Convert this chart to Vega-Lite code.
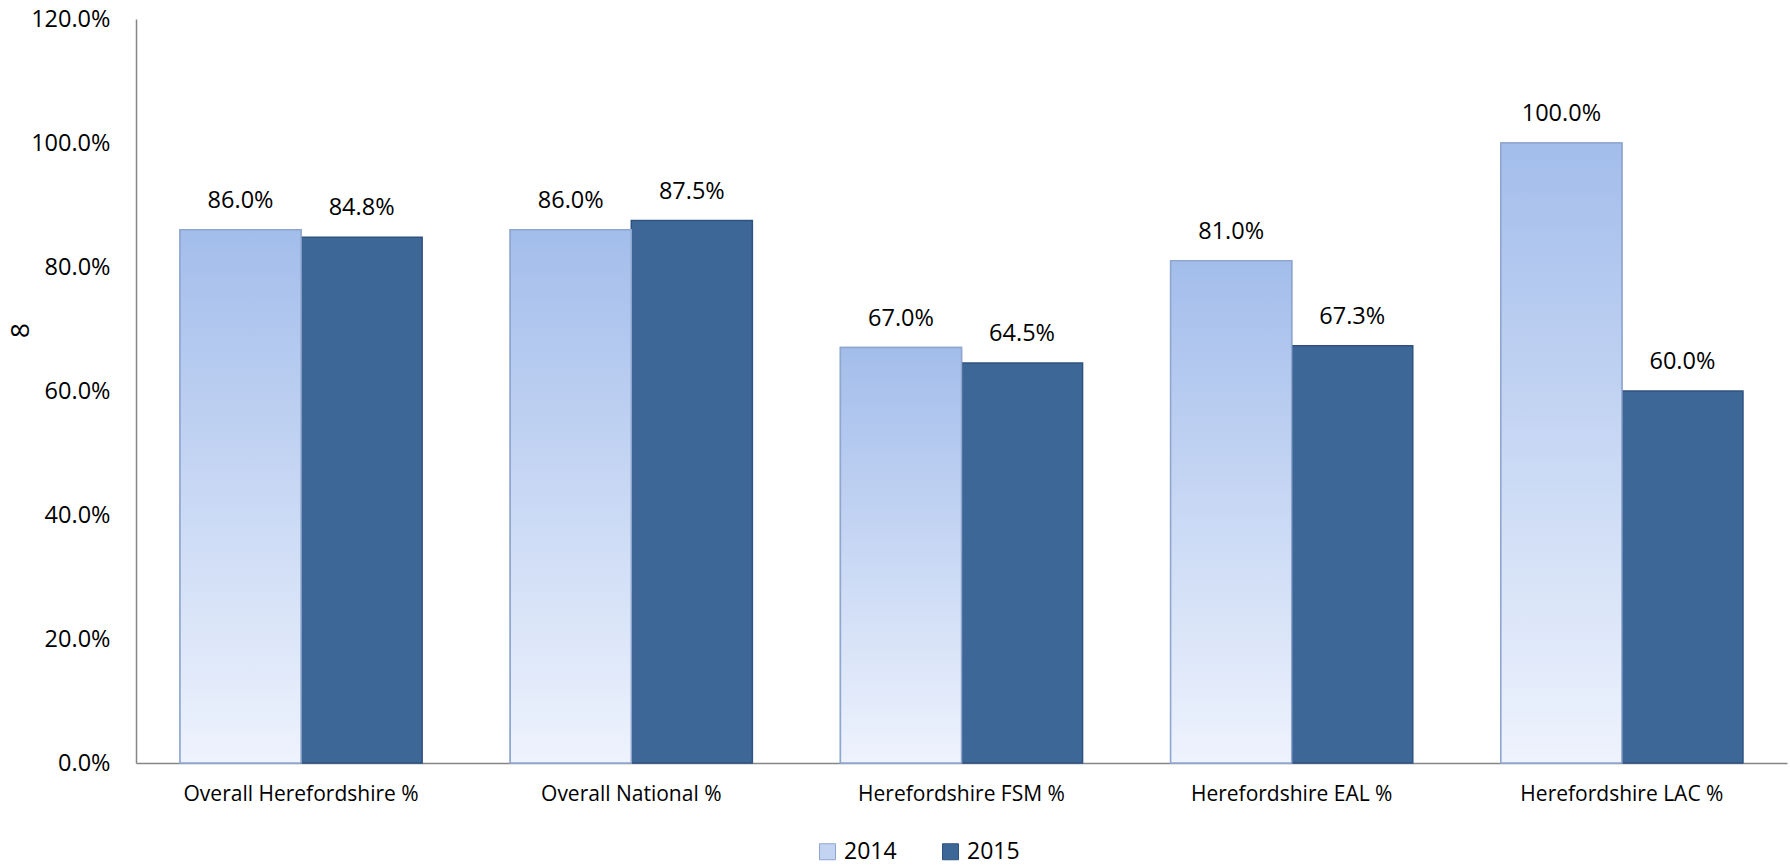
{
  "$schema": "https://vega.github.io/schema/vega-lite/v6.json",
  "width": 1651,
  "height": 744,
  "autosize": {"type": "none"},
  "padding": {"left": 136, "top": 19, "right": 3, "bottom": 103},
  "background": "white",
  "config": {
    "font": "Open Sans",
    "view": {"stroke": null},
    "axis": {"labelColor": "#000000", "titleColor": "#000000"},
    "legend": {"labelColor": "#000000"}
  },
  "data": {
    "values": [
      {"category": "Overall Herefordshire %", "year": "2014", "value": 0.86},
      {"category": "Overall Herefordshire %", "year": "2015", "value": 0.848},
      {"category": "Overall National %", "year": "2014", "value": 0.86},
      {"category": "Overall National %", "year": "2015", "value": 0.875},
      {"category": "Herefordshire FSM %", "year": "2014", "value": 0.67},
      {"category": "Herefordshire FSM %", "year": "2015", "value": 0.645},
      {"category": "Herefordshire EAL %", "year": "2014", "value": 0.81},
      {"category": "Herefordshire EAL %", "year": "2015", "value": 0.673},
      {"category": "Herefordshire LAC %", "year": "2014", "value": 1.0},
      {"category": "Herefordshire LAC %", "year": "2015", "value": 0.6}
    ]
  },
  "encoding": {
    "x": {
      "field": "category",
      "type": "nominal",
      "sort": null,
      "scale": {"paddingInner": 0.2667, "paddingOuter": 0.1333},
      "axis": {
        "title": null,
        "labelAngle": 0,
        "labelFontSize": 21,
        "labelLimit": 0,
        "labelPadding": 20,
        "ticks": false,
        "domainColor": "#868686",
        "domainWidth": 1.5
      }
    },
    "xOffset": {
      "field": "year",
      "type": "nominal",
      "scale": {"domain": ["2014", "2015"], "paddingInner": 0, "paddingOuter": 0}
    },
    "y": {
      "field": "value",
      "type": "quantitative",
      "scale": {"domain": [0, 1.2], "nice": false},
      "axis": {
        "values": [0, 0.2, 0.4, 0.6, 0.8, 1.0, 1.2],
        "format": ".1%",
        "labelFontSize": 23.5,
        "labelPadding": 26,
        "ticks": false,
        "grid": false,
        "domainColor": "#868686",
        "domainWidth": 1.5,
        "title": "8",
        "titleFontSize": 26,
        "titleFontWeight": "normal",
        "titleAngle": -90,
        "titleAlign": "center",
        "titleBaseline": "middle",
        "titleX": -116,
        "titleY": 311
      }
    }
  },
  "layer": [
    {
      "mark": {"type": "bar", "strokeWidth": 1.5},
      "encoding": {
        "color": {
          "field": "year",
          "type": "nominal",
          "scale": {"domain": ["2014", "2015"], "range": ["#c3d4f3", "#3d6796"]},
          "legend": {
            "orient": "none",
            "legendX": 680,
            "legendY": 821,
            "direction": "horizontal",
            "title": null,
            "symbolType": "square",
            "symbolSize": 256,
            "symbolStrokeWidth": 1,
            "symbolStrokeColor": "#7f8fa8",
            "labelFontSize": 23,
            "labelOffset": 5,
            "columnPadding": 42,
            "padding": 0
          }
        },
        "stroke": {
          "field": "year",
          "type": "nominal",
          "scale": {"domain": ["2014", "2015"], "range": ["#8fa6cf", "#2f5381"]},
          "legend": null
        }
      }
    },
    {
      "transform": [{"filter": "datum.year === '2014'"}],
      "mark": {
        "type": "bar",
        "stroke": "#8fa6cf",
        "strokeWidth": 1.5,
        "fill": {"gradient": "linear", "x1": 0, "y1": 0, "x2": 0, "y2": 1, "stops": [
          {"offset": 0, "color": "#a3bdeb"},
          {"offset": 1, "color": "#eef3fd"}
        ]}
      }
    },
    {
      "mark": {"type": "text", "dy": -29, "fontSize": 23.5, "color": "#000000", "baseline": "middle"},
      "encoding": {
        "text": {"field": "value", "type": "quantitative", "format": ".1%"}
      }
    }
  ]
}
